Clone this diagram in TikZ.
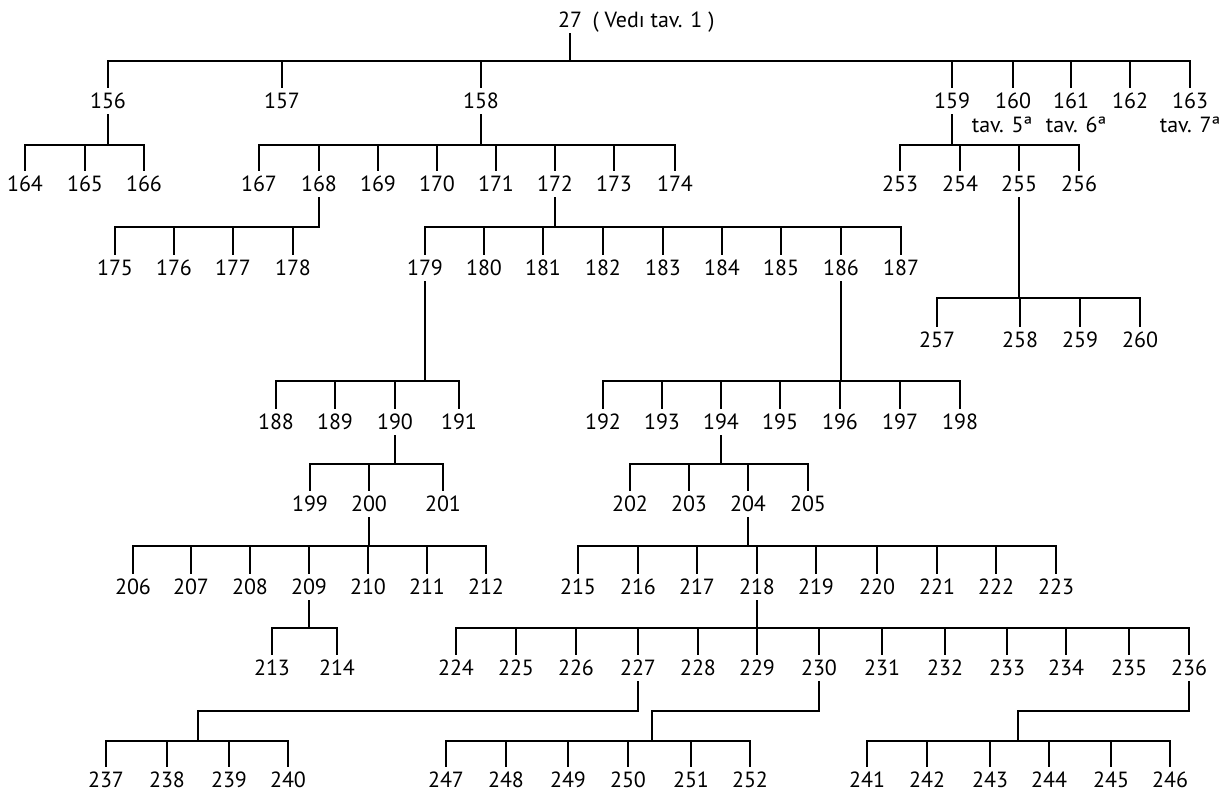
\documentclass[tikz,border=0pt]{standalone}
\usepackage{fontspec}
\setmainfont{PT Sans}
\usetikzlibrary{positioning}

\begin{document}
\begin{tikzpicture}[x=0.02cm,y=-0.02cm,line width=1.1pt]
\tikzstyle{every node}+=[inner sep=2.5pt,font=\fontsize{12.5}{14}\selectfont]
\useasboundingbox (0,0) rectangle (1229,796);
% root
\node (n27) at (570,20) {27};
\node (v27) [base right=0pt of n27] {( Vedı tav. 1 )};
% first row
\node (n156) at (108,101) {156};
\node (n157) at (282,101) {157};
\node (n158) at (481,101) {158};
\node (n159) at (952,101) {159};
\node (n160) at (1013,101) {160};
\node (n161) at (1071,101) {161};
\node (n162) at (1130,101) {162};
\node (n163) at (1190,101) {163};
\node (t160) at (1002,125) {tav. 5ª};
\node (t161) at (1076,125) {tav. 6ª};
\node (t163) at (1190,125) {tav. 7ª};
% second row
\node (n164) at (25,184) {164};
\node (n165) at (85,184) {165};
\node (n166) at (144,184) {166};
\node (n167) at (259,184) {167};
\node (n168) at (319,184) {168};
\node (n169) at (378,184) {169};
\node (n170) at (437,184) {170};
\node (n171) at (496,184) {171};
\node (n172) at (555,184) {172};
\node (n173) at (614,184) {173};
\node (n174) at (675,184) {174};
\node (n253) at (900,184) {253};
\node (n254) at (960,184) {254};
\node (n255) at (1019,184) {255};
\node (n256) at (1079,184) {256};
% third row
\node (n175) at (115,268) {175};
\node (n176) at (174,268) {176};
\node (n177) at (233,268) {177};
\node (n178) at (293,268) {178};
\node (n179) at (425,268) {179};
\node (n180) at (484,268) {180};
\node (n181) at (543,268) {181};
\node (n182) at (603,268) {182};
\node (n183) at (663,268) {183};
\node (n184) at (722,268) {184};
\node (n185) at (781,268) {185};
\node (n186) at (841,268) {186};
\node (n187) at (901,268) {187};
\node (n257) at (937,340) {257};
\node (n258) at (1020,340) {258};
\node (n259) at (1080,340) {259};
\node (n260) at (1140,340) {260};
% fourth row
\node (n188) at (276,422) {188};
\node (n189) at (335,422) {189};
\node (n190) at (395,422) {190};
\node (n191) at (459,422) {191};
\node (n192) at (603,422) {192};
\node (n193) at (662,422) {193};
\node (n194) at (721,422) {194};
\node (n195) at (780,422) {195};
\node (n196) at (840,422) {196};
\node (n197) at (900,422) {197};
\node (n198) at (960,422) {198};
% fifth row
\node (n199) at (310,504) {199};
\node (n200) at (369,504) {200};
\node (n201) at (443,504) {201};
\node (n202) at (630,504) {202};
\node (n203) at (689,504) {203};
\node (n204) at (748,504) {204};
\node (n205) at (808,504) {205};
% sixth row
\node (n206) at (133,587) {206};
\node (n207) at (191,587) {207};
\node (n208) at (250,587) {208};
\node (n209) at (309,587) {209};
\node (n210) at (368,587) {210};
\node (n211) at (427,587) {211};
\node (n212) at (486,587) {212};
\node (n215) at (578,587) {215};
\node (n216) at (638,587) {216};
\node (n217) at (697,587) {217};
\node (n218) at (757,587) {218};
\node (n219) at (816,587) {219};
\node (n220) at (877,587) {220};
\node (n221) at (937,587) {221};
\node (n222) at (996,587) {222};
\node (n223) at (1056,587) {223};
% seventh row
\node (n213) at (272,668) {213};
\node (n214) at (337,668) {214};
\node (n224) at (456,668) {224};
\node (n225) at (516,668) {225};
\node (n226) at (576,668) {226};
\node (n227) at (638,668) {227};
\node (n228) at (698,668) {228};
\node (n229) at (757,668) {229};
\node (n230) at (819,668) {230};
\node (n231) at (882,668) {231};
\node (n232) at (945,668) {232};
\node (n233) at (1007,668) {233};
\node (n234) at (1066,668) {234};
\node (n235) at (1129,668) {235};
\node (n236) at (1189,668) {236};
% eighth row
\node (n237) at (106,780) {237};
\node (n238) at (167,780) {238};
\node (n239) at (229,780) {239};
\node (n240) at (288,780) {240};
\node (n247) at (446,780) {247};
\node (n248) at (506,780) {248};
\node (n249) at (568,780) {249};
\node (n250) at (628,780) {250};
\node (n251) at (691,780) {251};
\node (n252) at (750,780) {252};
\node (n241) at (867,780) {241};
\node (n242) at (927,780) {242};
\node (n243) at (990,780) {243};
\node (n244) at (1049,780) {244};
\node (n245) at (1111,780) {245};
\node (n246) at (1170,780) {246};
% bends
\coordinate (k227) at (198,711);
\coordinate (k230) at (652,711);
\coordinate (k236) at (1018,711);
% 27
\draw (n27.south) -- (n27.south |- 0,61);
\draw (n156.north) |- (n163.north |- 0,61) -- (n163.north);
\draw (n157.north) -- (n157.north |- 0,61) (n158.north) -- (n158.north |- 0,61)
      (n159.north) -- (n159.north |- 0,61) (n160.north) -- (n160.north |- 0,61)
      (n161.north) -- (n161.north |- 0,61) (n162.north) -- (n162.north |- 0,61);
% 156
\draw (n156.south) -- (n156.south |- 0,145);
\draw (n164.north) |- (n166.north |- 0,145) -- (n166.north);
\draw (n165.north) -- (n165.north |- 0,145);
% 158
\draw (n158.south) -- (n158.south |- 0,145);
\draw (n167.north) |- (n174.north |- 0,145) -- (n174.north);
\draw (n168.north) -- (n168.north |- 0,145) (n169.north) -- (n169.north |- 0,145)
      (n170.north) -- (n170.north |- 0,145) (n171.north) -- (n171.north |- 0,145)
      (n172.north) -- (n172.north |- 0,145) (n173.north) -- (n173.north |- 0,145);
% 159
\draw (n159.south) -- (n159.south |- 0,145);
\draw (n253.north) |- (n256.north |- 0,145) -- (n256.north);
\draw (n254.north) -- (n254.north |- 0,145) (n255.north) -- (n255.north |- 0,145);
% 168
\draw (n168.south) |- (n175.north |- 0,227) -- (n175.north);
\draw (n176.north) -- (n176.north |- 0,227) (n177.north) -- (n177.north |- 0,227)
      (n178.north) -- (n178.north |- 0,227);
% 172
\draw (n172.south) -- (n172.south |- 0,227);
\draw (n179.north) |- (n187.north |- 0,227) -- (n187.north);
\draw (n180.north) -- (n180.north |- 0,227) (n181.north) -- (n181.north |- 0,227)
      (n182.north) -- (n182.north |- 0,227) (n183.north) -- (n183.north |- 0,227)
      (n184.north) -- (n184.north |- 0,227) (n185.north) -- (n185.north |- 0,227)
      (n186.north) -- (n186.north |- 0,227);
% 255
\draw (n255.south) -- (n255.south |- 0,298);
\draw (n257.north) |- (n260.north |- 0,298) -- (n260.north);
\draw (n258.north) -- (n258.north |- 0,298) (n259.north) -- (n259.north |- 0,298);
% 179
\draw (n179.south) -- (n179.south |- 0,381);
\draw (n188.north) |- (n191.north |- 0,381) -- (n191.north);
\draw (n189.north) -- (n189.north |- 0,381) (n190.north) -- (n190.north |- 0,381);
% 186
\draw (n186.south) -- (n186.south |- 0,381);
\draw (n192.north) |- (n198.north |- 0,381) -- (n198.north);
\draw (n193.north) -- (n193.north |- 0,381) (n194.north) -- (n194.north |- 0,381)
      (n195.north) -- (n195.north |- 0,381) (n196.north) -- (n196.north |- 0,381)
      (n197.north) -- (n197.north |- 0,381);
% 190
\draw (n190.south) -- (n190.south |- 0,464);
\draw (n199.north) |- (n201.north |- 0,464) -- (n201.north);
\draw (n200.north) -- (n200.north |- 0,464);
% 194
\draw (n194.south) -- (n194.south |- 0,464);
\draw (n202.north) |- (n205.north |- 0,464) -- (n205.north);
\draw (n203.north) -- (n203.north |- 0,464) (n204.north) -- (n204.north |- 0,464);
% 200
\draw (n200.south) -- (n200.south |- 0,546);
\draw (n206.north) |- (n212.north |- 0,546) -- (n212.north);
\draw (n207.north) -- (n207.north |- 0,546) (n208.north) -- (n208.north |- 0,546)
      (n209.north) -- (n209.north |- 0,546) (n210.north) -- (n210.north |- 0,546)
      (n211.north) -- (n211.north |- 0,546);
% 204
\draw (n204.south) -- (n204.south |- 0,546);
\draw (n215.north) |- (n223.north |- 0,546) -- (n223.north);
\draw (n216.north) -- (n216.north |- 0,546) (n217.north) -- (n217.north |- 0,546)
      (n218.north) -- (n218.north |- 0,546) (n219.north) -- (n219.north |- 0,546)
      (n220.north) -- (n220.north |- 0,546) (n221.north) -- (n221.north |- 0,546)
      (n222.north) -- (n222.north |- 0,546);
% 209
\draw (n209.south) -- (n209.south |- 0,628);
\draw (n213.north) |- (n214.north |- 0,628) -- (n214.north);
% 218
\draw (n218.south) -- (n218.south |- 0,628);
\draw (n224.north) |- (n236.north |- 0,628) -- (n236.north);
\draw (n225.north) -- (n225.north |- 0,628) (n226.north) -- (n226.north |- 0,628)
      (n227.north) -- (n227.north |- 0,628) (n228.north) -- (n228.north |- 0,628)
      (n229.north) -- (n229.north |- 0,628) (n230.north) -- (n230.north |- 0,628)
      (n231.north) -- (n231.north |- 0,628) (n232.north) -- (n232.north |- 0,628)
      (n233.north) -- (n233.north |- 0,628) (n234.north) -- (n234.north |- 0,628)
      (n235.north) -- (n235.north |- 0,628);
% 227
\draw (n227.south) |- (k227) -- (k227 |- 0,741);
\draw (n237.north) |- (n240.north |- 0,741) -- (n240.north);
\draw (n238.north) -- (n238.north |- 0,741) (n239.north) -- (n239.north |- 0,741);
% 230
\draw (n230.south) |- (k230) -- (k230 |- 0,741);
\draw (n247.north) |- (n252.north |- 0,741) -- (n252.north);
\draw (n248.north) -- (n248.north |- 0,741) (n249.north) -- (n249.north |- 0,741)
      (n250.north) -- (n250.north |- 0,741) (n251.north) -- (n251.north |- 0,741);
% 236
\draw (n236.south) |- (k236) -- (k236 |- 0,741);
\draw (n241.north) |- (n246.north |- 0,741) -- (n246.north);
\draw (n242.north) -- (n242.north |- 0,741) (n243.north) -- (n243.north |- 0,741)
      (n244.north) -- (n244.north |- 0,741) (n245.north) -- (n245.north |- 0,741);
\end{tikzpicture}
\end{document}
